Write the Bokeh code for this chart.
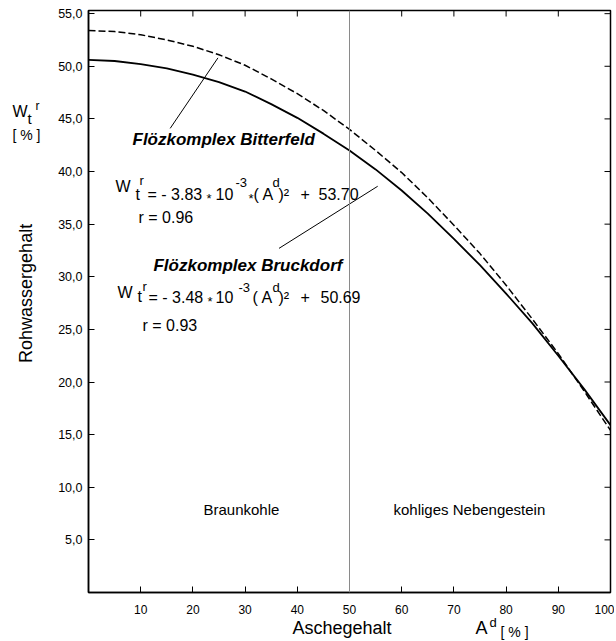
import math
from bokeh.plotting import figure
from bokeh.models import Range1d, FixedTicker, Label, Span
from bokeh.core.properties import value
from bokeh.embed import file_html
from bokeh.resources import INLINE

# ---- data ----
ash = [0, 5, 10, 15, 20, 25, 30, 35, 40, 45, 50, 55, 60, 65, 70, 75, 80, 85, 90, 95, 100]
bitterfeld = [53.4, 53.3, 53.0, 52.5, 51.9, 51.1, 50.1, 48.8, 47.4, 45.8, 44.0, 42.0,
              39.9, 37.5, 34.9, 32.2, 29.2, 26.0, 22.7, 19.1, 15.4]
bruckdorf = [50.6, 50.5, 50.2, 49.8, 49.2, 48.5, 47.6, 46.4, 45.1, 43.6, 42.0, 40.2,
             38.2, 36.0, 33.6, 31.1, 28.4, 25.6, 22.5, 19.3, 15.9]

x_ticks = [10, 20, 30, 40, 50, 60, 70, 80, 90, 100]
y_ticks = [5, 10, 15, 20, 25, 30, 35, 40, 45, 50, 55]
y_tick_labels = ["5,0", "10,0", "15,0", "20,0", "25,0", "30,0", "35,0", "40,0",
                 "45,0", "50,0", "55,0"]
x_max = 100
y_max = 55.3
boundary = 50  # Braunkohle / kohliges Nebengestein

# leader lines (from label to curve)
leader_x0 = [15.65, 36.5]
leader_y0 = [44.1, 32.7]
leader_x1 = [24.8, 55.4]
leader_y1 = [50.8, 38.6]

FONT = "Liberation Sans"

p = figure(width=614, height=640, x_range=Range1d(0, x_max), y_range=Range1d(0, y_max),
           output_backend="svg", toolbar_location=None,
           min_border_left=88, min_border_right=4, min_border_top=10, min_border_bottom=48)
p.grid.visible = False
p.outline_line_color = "black"
p.outline_line_width = 1.5
p.outline_line_alpha = 1.0
p.background_fill_color = "white"
p.border_fill_color = "white"

for ax, ticks in ((p.xaxis[0], x_ticks), (p.yaxis[0], y_ticks)):
    ax.ticker = FixedTicker(ticks=ticks)
    ax.axis_line_color = "black"
    ax.axis_line_width = 1.5
    ax.major_tick_in = 6
    ax.major_tick_out = 0
    ax.major_tick_line_color = "black"
    ax.major_tick_line_width = 1
    ax.minor_tick_line_color = None
    ax.major_label_text_font = FONT
    ax.major_label_text_color = "black"

p.xaxis[0].major_label_text_font_size = "12px"
p.xaxis[0].major_label_standoff = 12

p.yaxis[0].major_label_text_font_size = "12.5px"
p.yaxis[0].major_label_standoff = 6
p.yaxis[0].major_label_overrides = {t: s for t, s in zip(y_ticks, y_tick_labels)}

# mirrored inward ticks on the top and right frame edges
p.ray(x=x_ticks, y=[y_max] * len(x_ticks), length=6, angle=-math.pi / 2,
      length_units="screen", line_color="black", line_width=1)
p.ray(x=[x_max] * len(y_ticks), y=y_ticks, length=6, angle=math.pi,
      length_units="screen", line_color="black", line_width=1)

p.add_layout(Span(location=boundary, dimension="height", line_color="#8a8a8a", line_width=1))

p.line(ash, bitterfeld, line_color="black", line_width=1.5, line_dash="7 3")
p.line(ash, bruckdorf, line_color="black", line_width=1.8)
p.segment(x0=leader_x0, y0=leader_y0, x1=leader_x1, y1=leader_y1, line_color="black", line_width=1)


def lab(x, y, text, size, style="normal"):
    p.add_layout(Label(x=x, y=y, text=text, text_font=FONT, text_font_size=size,
                       text_font_style=style, text_baseline="middle", text_align="left",
                       text_color="black"))


def outside(x, y, text, size, angle=0.0, align="left"):
    p.text(x=[x], y=[y], text=[text], text_font=value(FONT), text_font_size=value(size),
           text_baseline="middle", text_align=align, angle=angle,
           text_color="black", level="overlay")


# series titles
lab(8.43, 43.06, "Flözkomplex Bitterfeld", "17px", "bold italic")
lab(12.45, 31.08, "Flözkomplex Bruckdorf", "17px", "bold italic")

# equation 1
lab(5.17, 38.59, "W", "16px")
lab(9.77, 39.16, "r", "13px")
lab(9.00, 37.83, "t", "16px")
lab(11.30, 37.83, "= - 3.83", "16px")
lab(22.61, 37.45, "*", "13px")
lab(24.33, 37.83, "10", "16px")
lab(28.16, 38.97, "-3", "13px")
lab(30.65, 37.45, "*", "13px")
lab(31.61, 37.83, "( A", "16px")
lab(35.25, 38.97, "d", "13px")
lab(36.40, 37.83, ")²", "16px")
lab(40.61, 37.83, "+", "16px")
lab(44.06, 37.83, "53.70", "16px")
lab(9.58, 35.65, "r = 0.96", "16px")

# equation 2
lab(5.56, 28.52, "W", "16px")
lab(10.34, 29.09, "r", "13px")
lab(9.39, 28.14, "t", "16px")
lab(11.49, 28.04, "= - 3.48", "16px")
lab(22.80, 27.66, "*", "13px")
lab(24.33, 28.04, "10", "16px")
lab(28.74, 28.99, "-3", "13px")
lab(31.42, 28.04, "( A", "16px")
lab(35.25, 28.99, "d", "13px")
lab(36.40, 28.04, ")²", "16px")
lab(40.61, 28.04, "+", "16px")
lab(44.44, 28.04, "50.69", "16px")
lab(10.34, 25.38, "r = 0.93", "16px")

# regions
lab(22.03, 7.89, "Braunkohle", "15px")
lab(58.43, 7.89, "kohliges Nebengestein", "15px")

# axis titles and units outside the frame
outside(-11.88, 28.42, "Rohwassergehalt", "18px", angle=math.pi / 2, align="center")
outside(-14.56, 45.72, "W", "16px")
outside(-11.69, 45.06, "t", "15px")
outside(-10.15, 46.2, "r", "12px")
outside(-14.56, 43.44, "[ % ]", "14px")

outside(39.08, -3.42, "Aschegehalt", "18px")
outside(74.14, -3.42, "A", "18px")
outside(76.82, -2.85, "d", "13px")
outside(78.93, -3.71, "[ % ]", "14px")

open("out.html", "w").write(file_html(p, INLINE))
